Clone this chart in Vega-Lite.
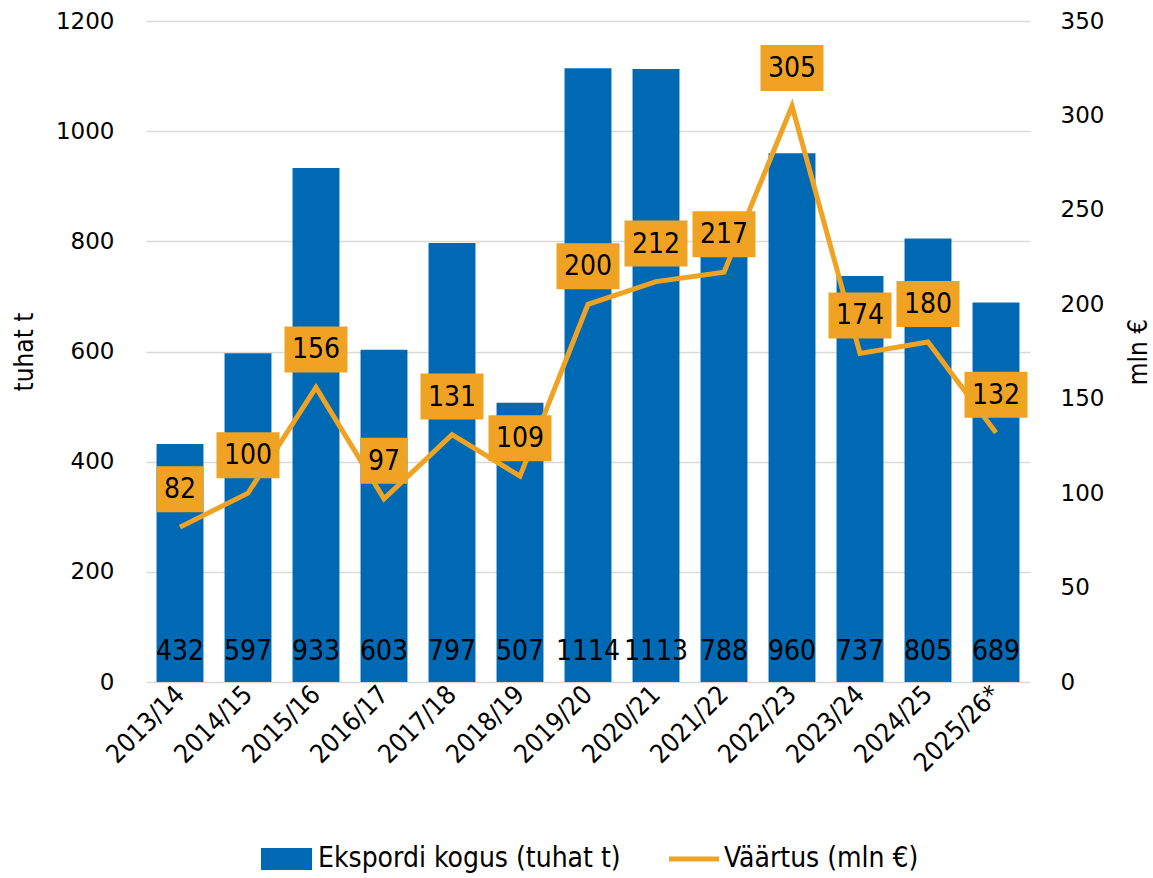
{
  "$schema": "https://vega.github.io/schema/vega-lite/v6.json",
  "autosize": {"type": "none"},
  "width": 884,
  "height": 661,
  "padding": {"left": 146, "top": 21, "right": 123, "bottom": 196},
  "background": "white",
  "data": {"values": [
    {"hooaeg": "2013/14", "kogus": 432, "vaartus": 82},
    {"hooaeg": "2014/15", "kogus": 597, "vaartus": 100},
    {"hooaeg": "2015/16", "kogus": 933, "vaartus": 156},
    {"hooaeg": "2016/17", "kogus": 603, "vaartus": 97},
    {"hooaeg": "2017/18", "kogus": 797, "vaartus": 131},
    {"hooaeg": "2018/19", "kogus": 507, "vaartus": 109},
    {"hooaeg": "2019/20", "kogus": 1114, "vaartus": 200},
    {"hooaeg": "2020/21", "kogus": 1113, "vaartus": 212},
    {"hooaeg": "2021/22", "kogus": 788, "vaartus": 217},
    {"hooaeg": "2022/23", "kogus": 960, "vaartus": 305},
    {"hooaeg": "2023/24", "kogus": 737, "vaartus": 174},
    {"hooaeg": "2024/25", "kogus": 805, "vaartus": 180},
    {"hooaeg": "2025/26*", "kogus": 689, "vaartus": 132}
  ]},
  "encoding": {
    "x": {"field": "hooaeg", "type": "nominal", "sort": null,
      "scale": {"paddingInner": 0.31, "paddingOuter": 0.155},
      "axis": {"title": null, "labelAngle": -45, "labelAlign": "right", "labelBaseline": "middle",
        "labelFont": "DejaVu Sans Condensed", "labelFontSize": 26, "labelColor": "#000", "labelPadding": 8,
        "ticks": false, "domain": false}}
  },
  "layer": [
    {
      "layer": [
        {
          "mark": {"type": "bar", "color": "#0069B4"},
          "encoding": {
            "y": {"field": "kogus", "type": "quantitative", "scale": {"domain": [0, 1200]},
              "axis": {"title": "tuhat t", "titleFont": "DejaVu Sans Condensed", "titleFontSize": 26, "titleFontWeight": "normal", "titleColor": "#000", "titlePadding": 18,
                "values": [0, 200, 400, 600, 800, 1000, 1200], "format": "d", "labelOverlap": false, "labelFont": "DejaVu Sans", "labelFontSize": 23, "labelColor": "#000", "labelPadding": 32,
                "ticks": false, "domain": false, "grid": true, "gridColor": "#d9d9d9", "gridWidth": 1.5}},
            "fill": {"datum": "Ekspordi kogus (tuhat t)", "type": "nominal", "scale": {"range": ["#0069B4"]},
              "legend": {"title": null, "orient": "bottom", "symbolType": "M-1,-1L3.64,-1L3.64,1L-1,1Z", "symbolSize": 484, "symbolStrokeWidth": 0,
                "labelFont": "DejaVu Sans Condensed", "labelFontSize": 28, "labelColor": "#000", "labelOffset": 32, "labelLimit": 400}}
          }
        },
        {
          "mark": {"type": "text", "font": "DejaVu Sans Condensed", "fontSize": 28, "color": "#000", "baseline": "middle", "yOffset": -30},
          "encoding": {
            "y": {"datum": 0, "type": "quantitative"},
            "text": {"field": "kogus", "type": "quantitative"}
          }
        }
      ]
    },
    {
      "layer": [
        {
          "mark": {"type": "line", "strokeWidth": 5, "color": "#F0A323"},
          "encoding": {
            "y": {"field": "vaartus", "type": "quantitative", "scale": {"domain": [0, 350]},
              "axis": {"orient": "right", "title": "mln €", "titleAngle": 270, "titleFont": "DejaVu Sans Condensed", "titleFontSize": 26, "titleFontWeight": "normal", "titleColor": "#000", "titlePadding": 48,
                "values": [0, 50, 100, 150, 200, 250, 300, 350], "labelOverlap": false, "labelFont": "DejaVu Sans", "labelFontSize": 23, "labelColor": "#000", "labelPadding": 30,
                "ticks": false, "domain": false, "grid": false}},
            "stroke": {"datum": "Väärtus (mln €)", "type": "nominal", "scale": {"range": ["#F0A323"]},
              "legend": {"title": null, "orient": "bottom", "symbolType": "M-1,0L3.55,0", "symbolSize": 484, "symbolStrokeWidth": 5, "symbolFillColor": "transparent",
                "labelFont": "DejaVu Sans Condensed", "labelFontSize": 28, "labelColor": "#000", "labelOffset": 30, "labelLimit": 400}}
          }
        },
        {
          "mark": {"type": "point", "filled": true, "opacity": 1, "color": "#F0A323", "yOffset": -38, "size": 2116},
          "encoding": {
            "y": {"field": "vaartus", "type": "quantitative"},
            "shape": {"condition": {"test": "datum.vaartus < 100", "value": "M-1.02,-1L1.02,-1L1.02,1L-1.02,1Z"}, "value": "M-1.37,-1L1.37,-1L1.37,1L-1.37,1Z"}
          }
        },
        {
          "mark": {"type": "text", "font": "DejaVu Sans Condensed", "fontSize": 28, "color": "#000", "baseline": "middle", "yOffset": -37},
          "encoding": {
            "y": {"field": "vaartus", "type": "quantitative"},
            "text": {"field": "vaartus", "type": "quantitative"}
          }
        }
      ]
    }
  ],
  "resolve": {"scale": {"y": "independent", "fill": "independent", "stroke": "independent"}},
  "config": {
    "view": {"stroke": null},
    "legend": {"layout": {"bottom": {"anchor": "middle", "direction": "horizontal", "margin": 45}}, "offset": 68}
  }
}
